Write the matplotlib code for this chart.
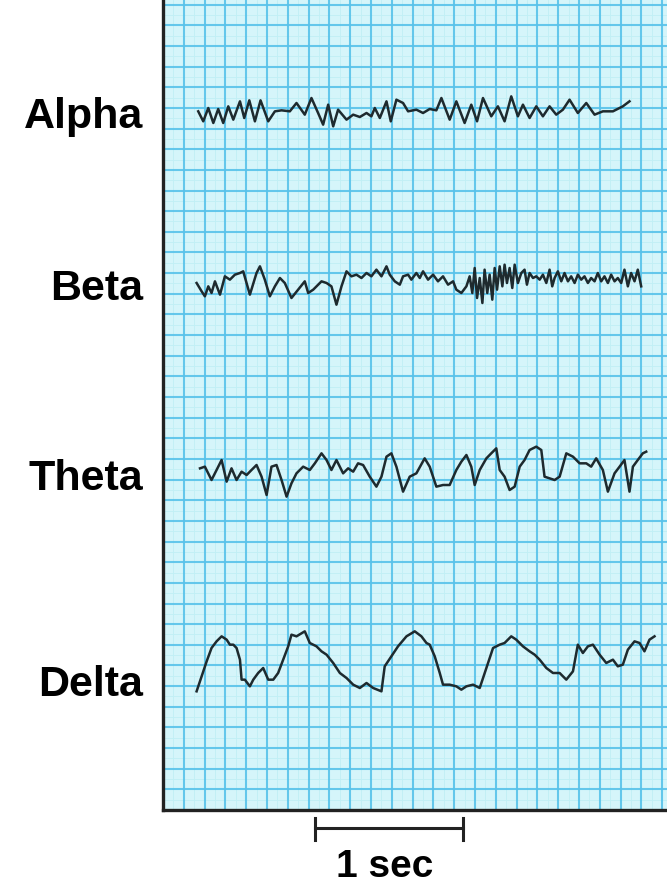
import numpy as np
import matplotlib.pyplot as plt

plt.rcParams['font.family'] = ['Liberation Sans', 'DejaVu Sans']

# EEG traces: time in ms, amplitude in uV (relative to each trace baseline)
alpha_t = [238, 272, 306, 340, 373, 407, 441, 475, 520, 549, 583, 621, 659, 711, 756, 801,
           857, 902, 958, 1003, 1048, 1082, 1116, 1150, 1183, 1240, 1285, 1330, 1375, 1408,
           1431, 1465, 1510, 1539, 1577, 1622, 1656, 1712, 1757, 1802, 1847, 1881, 1937, 1982,
           2038, 2083, 2122, 2162, 2218, 2263, 2308, 2353, 2398, 2432, 2477, 2522, 2567, 2612,
           2657, 2702, 2747, 2803, 2860, 2916, 2972, 3040, 3107, 3152]
alpha_v = [5, -25, 15, -30, 12, -30, 20, -20, 35, -15, 38, -25, 38, -25, 5, 8,
           5, 30, -5, 45, 0, -35, 25, -40, 10, -20, -5, -12, 0, -10,
           15, -15, 35, -25, 40, 30, 5, 10, 0, 12, 8, 45, -20, 35,
           -30, 25, -25, 45, -10, 20, -25, 50, -10, 25, -15, 20, -10, 20,
           -5, 10, 40, 0, 30, -5, 5, 5, 20, 35]

beta_t = [227, 261, 283, 306, 328, 351, 385, 418, 452, 486, 520, 542, 587, 632, 655, 688,
          722, 756, 790, 823, 868, 913, 958, 981, 1015, 1071, 1105, 1138, 1172, 1206, 1240,
          1273, 1307, 1341, 1375, 1408, 1442, 1476, 1510, 1532, 1566, 1600, 1622, 1656, 1678,
          1712, 1735, 1757, 1791, 1825, 1858, 1892, 1926, 1960, 1982, 2016, 2050, 2072, 2090,
          2106, 2122, 2140, 2158, 2173, 2191, 2207, 2225, 2241, 2257, 2275, 2293, 2308, 2324,
          2342, 2360, 2376, 2398, 2421, 2443, 2459, 2477, 2500, 2522, 2545, 2567, 2590, 2612,
          2630, 2646, 2668, 2691, 2713, 2736, 2758, 2781, 2803, 2826, 2848, 2871, 2893, 2916,
          2938, 2961, 2983, 3006, 3028, 3051, 3073, 3096, 3118, 3141, 3163, 3186, 3208, 3231]
beta_v = [0, -25, -40, -10, -30, 5, -35, 20, 10, 25, 30, 35, -35, 30, 50, 10,
          -40, -10, 15, 0, -45, -20, 5, -30, -20, 5, 0, -10, -65, -10, 35,
          20, 25, 15, 30, 20, 40, 20, 50, 25, 5, -5, 20, 25, 10,
          30, 15, 35, 10, 25, 5, 20, -5, 5, -20, -30, -10, 20, -30,
          45, -45, 15, -60, 40, -30, 25, -50, 45, -20, 50, -10, 55, 0,
          45, -15, 55, 0, 30, 40, -5, 30, 15, 20, 10, 25, 0, 40,
          -10, 15, 35, 5, 30, 5, 20, 0, 25, 10, 20, 0, 15, 5,
          30, 5, 20, 0, 25, 5, 15, 0, 40, -10, 30, 5, 40, -10]

theta_t = [250, 283, 328, 362, 396, 430, 463, 497, 531, 565, 598, 632, 666, 700, 733, 767,
           801, 835, 868, 902, 947, 992, 1026, 1071, 1105, 1138, 1172, 1217, 1251, 1285, 1318,
           1352, 1397, 1442, 1476, 1510, 1543, 1577, 1622, 1667, 1712, 1768, 1802, 1847, 1892,
           1937, 1982, 2016, 2050, 2083, 2106, 2140, 2185, 2218, 2252, 2275, 2308, 2342, 2376,
           2410, 2443, 2477, 2522, 2556, 2578, 2612, 2646, 2680, 2725, 2770, 2815, 2860, 2893,
           2927, 2972, 3006, 3051, 3085, 3118, 3152, 3175, 3208, 3242, 3265]
theta_v = [5, 10, -30, 0, 30, -35, 5, -30, -5, -15, 0, 15, -20, -75, 10, 15,
           -30, -80, -40, -10, 10, 0, 20, 50, 30, 0, 30, -10, 5, -5, 20,
           15, -20, -50, -20, 40, 50, 10, -65, -20, -10, 35, 10, -50, -45,
           -45, 0, 25, 45, 10, -45, 0, 35, 50, 65, 0, -20, -60, -50,
           10, 30, 60, 70, 60, -20, -25, -30, -20, 50, 40, 20, 20, 10,
           35, 0, -65, -10, 10, 30, -65, 10, 30, 50, 55]

delta_t = [227, 261, 295, 328, 362, 396, 430, 452, 475, 497, 520, 531, 553, 587, 610, 643,
           677, 711, 745, 778, 812, 846, 868, 902, 958, 992, 1037, 1071, 1105, 1150, 1195,
           1240, 1285, 1330, 1375, 1420, 1476, 1498, 1543, 1588, 1645, 1701, 1746, 1780, 1802,
           1836, 1870, 1892, 1937, 1982, 2016, 2050, 2095, 2140, 2185, 2230, 2275, 2308, 2353,
           2387, 2432, 2477, 2511, 2545, 2590, 2635, 2680, 2725, 2770, 2803, 2837, 2871, 2905,
           2950, 2995, 3040, 3073, 3107, 3141, 3186, 3220, 3253, 3287, 3321]
delta_v = [-85, -40, 5, 45, 65, 80, 70, 55, 55, 45, 10, -50, -50, -70, -50, -30,
           -15, -50, -50, -30, 10, 50, 85, 80, 95, 60, 50, 35, 25, 0, -30,
           -45, -65, -75, -60, -75, -85, -10, 20, 50, 80, 95, 80, 60, 55,
           20, -30, -65, -65, -70, -80, -70, -65, -75, -15, 45, 55, 60, 80,
           70, 50, 35, 25, 10, -15, -30, -30, -50, -25, 55, 30, 50, 55,
           25, 0, 10, -10, -5, 40, 65, 60, 35, 70, 80]

labels = ['Alpha', 'Beta', 'Theta', 'Delta']
traces = [(alpha_t, alpha_v), (beta_t, beta_v), (theta_t, theta_v), (delta_t, delta_v)]

# layout (image pixels -> data units)
W, H = 667, 886
AX_L, AX_B = 163, 810          # left border / bottom border, in image px
MS_PER_PX = 1000 / 148.0       # 1 sec bar is 148 px long
UV_PER_PX = 3.0


def dx(px):
    return (px - AX_L) * MS_PER_PX


def dy(py):
    return (AX_B - py) * UV_PER_PX


baseline_px = [113, 283, 470, 663]
label_px = [128, 300, 490, 696]

fig = plt.figure(figsize=(W / 100, H / 100), dpi=100)
ax = fig.add_axes([AX_L / W, (H - AX_B) / H, (W - AX_L) / W, AX_B / H])
xmax = dx(W)
ymax = dy(0)
ax.set_xlim(0, xmax)
ax.set_ylim(0, ymax)
ax.set_facecolor('#d5f5fa')

# graph paper
gx = 20.8 * MS_PER_PX
gy = 20.65 * UV_PER_PX
for x in np.arange(gx / 2, xmax, gx):
    ax.axvline(x, color='#c0eff5', lw=0.6, zorder=1)
for y in np.arange(gy / 2, ymax, gy):
    ax.axhline(y, color='#c0eff5', lw=0.6, zorder=1)
for x in np.arange(gx, xmax, gx):
    ax.axvline(x, color='#58c2ea', lw=1.5, alpha=0.9, zorder=1)
for y in np.arange(gy, ymax, gy):
    ax.axhline(y, color='#58c2ea', lw=1.5, alpha=0.9, zorder=1)

for (t, v), b, lp, name in zip(traces, baseline_px, label_px, labels):
    ax.plot(t, np.array(v) + dy(b), color='#1e2a2e', lw=1.8, zorder=3,
            solid_joinstyle='round')
    ax.text(dx(143), dy(lp), name, ha='right', va='baseline', fontsize=31,
            fontweight='bold', clip_on=False)

ax.set_xticks([])
ax.set_yticks([])
for s in ['top', 'right']:
    ax.spines[s].set_visible(False)
for s in ['left', 'bottom']:
    ax.spines[s].set_linewidth(2.4)
    ax.spines[s].set_color('#222222')

# 1 sec scale bar
x0, x1 = dx(315), dx(315) + 1000
ax.plot([x0, x1], [dy(828), dy(828)], color='#222222', lw=2.2, clip_on=False)
ax.plot([x0, x0], [dy(818), dy(840)], color='#222222', lw=2.2, clip_on=False)
ax.plot([x1, x1], [dy(818), dy(840)], color='#222222', lw=2.2, clip_on=False)
ax.text((x0 + x1) / 2 - 4 * MS_PER_PX, dy(877), '1 sec', ha='center', va='baseline',
        fontsize=28, fontweight='bold', clip_on=False)

fig.savefig('out.png', dpi=100)
